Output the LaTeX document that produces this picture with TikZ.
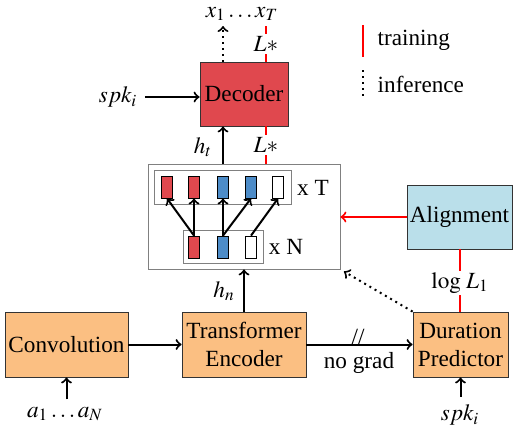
\documentclass[tikz,border=0pt,11pt]{standalone}
\usepackage{mathptmx}
\usepackage{fontspec}
\setmainfont{Liberation Serif}
\definecolor{decred}{HTML}{E0484E}
\definecolor{encorange}{HTML}{FBBF82}
\definecolor{alignblue}{HTML}{BADFEA}
\definecolor{vecblue}{HTML}{4D8CC8}
\tikzset{
  block/.style={draw=black!80, inner sep=0pt, align=center},
  vec/.style={draw=black, minimum width=5.5pt, minimum height=11pt, inner sep=0pt},
  arr/.style={->, line width=1pt},
  redline/.style={red, line width=1pt},
  lbl/.style={fill=white, inner sep=1pt},
}
\begin{document}
\begin{tikzpicture}[x=0.5pt,y=-0.5pt,font=\fontsize{11.6}{14}\selectfont]
\useasboundingbox (0,0) rectangle (514,436);
% blocks
\node[block, fill=decred, minimum width=44pt, minimum height=32pt] (dec) at (244,94) {Decoder};
\node[block, fill=encorange, minimum width=61.5pt, minimum height=32.5pt] (conv) at (66.5,344.5) {Convolution};
\node[block, fill=encorange, minimum width=62pt, minimum height=32.5pt] (enc) at (244,344.5) {Transformer\\Encoder};
\node[block, fill=encorange, minimum width=47.5pt, minimum height=32.5pt] (dur) at (460.5,344.5) {Duration\\Predictor};
\node[block, fill=alignblue, minimum width=52.5pt, minimum height=32pt] (align) at (459.5,217) {Alignment};
% attention box
\node[draw=gray, minimum width=96pt, minimum height=52.5pt] (outer) at (244,216.5) {};
\node[draw=gray, minimum width=68.5pt, minimum height=17pt] (topbox) at (222.5,187) {};
\node[draw=gray, minimum width=40pt, minimum height=16.5pt] (botbox) at (223,246.5) {};
\foreach \x/\c [count=\i] in {167/decred,194/decred,223/vecblue,251/vecblue,278/white}
  \node[vec, fill=\c] (t\i) at (\x,187) {};
\foreach \x/\c [count=\i] in {194/decred,223/vecblue,251/white}
  \node[vec, fill=\c] (b\i) at (\x,247) {};
\draw[arr] (b1.north) -- (t1.south);
\draw[arr] (b1.north) -- (t2.south);
\draw[arr] (b2.north) -- (t3.south);
\draw[arr] (b2.north) -- (t4.south);
\draw[arr] (b3.north) -- (t5.south);
\node (xT) at (313,188) {x T};
\node (xN) at (286,247) {x N};
% decoder in and out
\draw[arr] (outer.north -| t3) -- (dec.south -| t3);
\node (ht) at (203,147) {$h_t$};
\node[inner sep=1pt] (xout) at (242,14) {$x_1\ldots x_T$};
\coordinate (outtip) at (223,26);
\draw[arr, dotted] (dec.north -| outtip) -- (outtip);
\coordinate (ltop) at (266,26);
\draw[redline] (dec.north -| ltop) -- (ltop);
\node[lbl] (lstar1) at (266,44) {$L*$};
\draw[redline] (dec.south -| ltop) -- (outer.north -| ltop);
\node[lbl] (lstar2) at (266,145) {$L*$};
\node (spk1) at (118,97) {$spk_i$};
\draw[arr] (spk1.east) -- (dec.west |- spk1.east);
% legend
\coordinate (leg1a) at (363,25);
\coordinate (leg1b) at (363,57);
\draw[redline] (leg1a) -- (leg1b);
\node[anchor=west] (train) at (370,40) {training};
\coordinate (leg2a) at (363,70);
\coordinate (leg2b) at (363,97);
\draw[line width=1pt, dotted] (leg2a) -- (leg2b);
\node[anchor=west] (infer) at (370,84) {inference};
% alignment
\draw[arr, red] (align.west) -- (outer.east |- align.west);
\draw[redline] (align.south) -- (align.south |- dur.north);
\node[lbl] (loss) at (460,283) {$\log\,L_1$};
% bottom row
\draw[arr] (conv.east) -- (enc.west);
\draw[arr] (enc.east) -- (dur.west);
\node[inner sep=0pt] (cut) at (358,337) {//};
\node[inner sep=0pt] (nograd) at (359,363) {no grad};
\draw[arr] (enc.north) -- (outer.south -| enc.north);
\node (hn) at (224,291) {$h_n$};
\draw[arr, dotted, shorten >=2pt] (dur.north west) -- (outer.south east);
\node (ain) at (65,414) {$a_1\ldots a_N$};
\draw[arr] (conv.south |- ain.north) -- (conv.south);
\node (spk2) at (460,415) {$spk_i$};
\draw[arr] (dur.south |- spk2.north) -- (dur.south);
\end{tikzpicture}
\end{document}
